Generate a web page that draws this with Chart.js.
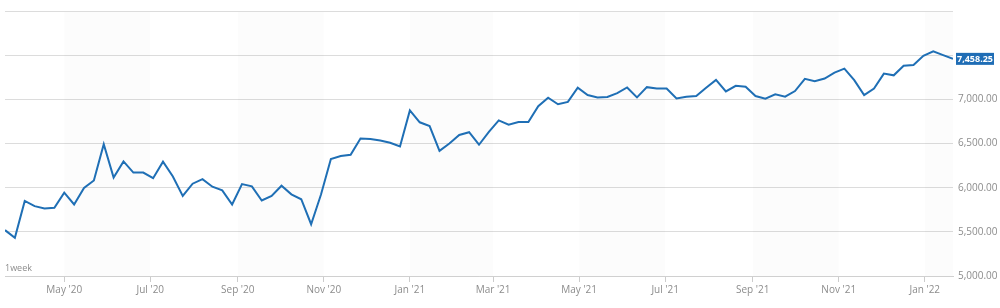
<!DOCTYPE html>
<html>
<head>
<meta charset="utf-8">
<script src="https://cdn.jsdelivr.net/npm/chart.js@4/dist/chart.umd.min.js"></script>
<style>
  html, body { margin: 0; padding: 0; background: #ffffff; }
  #wrap { width: 1000px; height: 308px; position: relative; }
</style>
</head>
<body>
<div id="wrap"><canvas id="c"></canvas></div>
<script>
// ---- Data ----
const startDate = '2020-03-20';          // first weekly close (Friday)
const intervalLabel = '1week';
const values = [
  5519, 5433, 5850, 5791, 5765, 5772, 5944, 5810, 5996, 6082,
  6493, 6115, 6297, 6171, 6171, 6107, 6294, 6126, 5906, 6045,
  6096, 6011, 5970, 5810, 6040, 6015, 5855, 5906, 6022, 5925,
  5869, 5586, 5922, 6324, 6358, 6372, 6556, 6552, 6534, 6508,
  6466, 6874, 6740, 6698, 6416, 6500, 6597, 6628, 6486, 6631,
  6762, 6714, 6743, 6743, 6922, 7019, 6944, 6971, 7131, 7049,
  7022, 7027, 7071, 7134, 7022, 7138, 7123, 7123, 7011, 7030,
  7038, 7131, 7220, 7089, 7153, 7142, 7038, 7008, 7056, 7030,
  7094, 7232, 7205, 7235, 7302, 7347, 7217, 7049, 7123, 7291,
  7272, 7380, 7389, 7492, 7544, 7500, 7458.25
];
const tickDates  = ['2020-05-01','2020-07-01','2020-09-01','2020-11-01','2021-01-01','2021-03-01',
                    '2021-05-01','2021-07-01','2021-09-01','2021-11-01','2022-01-01'];
const tickLabels = ["May '20","Jul '20","Sep '20","Nov '20","Jan '21","Mar '21",
                    "May '21","Jul '21","Sep '21","Nov '21","Jan '22"];
const yTicks = [5000, 5500, 6000, 6500, 7000, 7500, 8000];
const yHiddenLabels = [7500, 8000];

// ---- Helpers ----
const DAY = 86400000;
const t0 = Date.parse(startDate + 'T00:00:00Z');
const dayOf = s => Math.round((Date.parse(s + 'T00:00:00Z') - t0) / DAY);
const tickDays = tickDates.map(dayOf);
const points = values.map((v, i) => ({ x: i * 7, y: v }));
const lastVal = values[values.length - 1];
const fmt = v => v.toLocaleString('en-US', { minimumFractionDigits: 2, maximumFractionDigits: 2 });

const FONT = "'Open Sans', 'Noto Sans', sans-serif";

const bandsPlugin = {
  id: 'bands',
  beforeDatasetsDraw(chart) {
    const { ctx, chartArea: a, scales: { x } } = chart;
    const edges = [x.min, ...tickDays, x.max];
    ctx.save();
    ctx.fillStyle = 'rgba(0,0,0,0.012)';
    for (let i = 1; i < edges.length - 1; i += 2) {
      const x1 = x.getPixelForValue(edges[i]);
      const x2 = x.getPixelForValue(edges[i + 1]);
      ctx.fillRect(x1, a.top + 1, x2 - x1, a.bottom - a.top - 1);
    }
    ctx.restore();
  }
};

const extrasPlugin = {
  id: 'extras',
  afterDraw(chart) {
    const { ctx, chartArea: a, scales: { y } } = chart;
    ctx.save();
    // interval label
    ctx.font = '9px ' + FONT;
    ctx.fillStyle = '#8c8c8c';
    ctx.textAlign = 'left';
    ctx.textBaseline = 'middle';
    ctx.fillText(intervalLabel, a.left, a.bottom - 8);
    // last price tag
    const py = y.getPixelForValue(lastVal);
    ctx.fillStyle = '#1f6db5';
    ctx.fillRect(a.right + 3, py - 6, 38, 12);
    ctx.fillStyle = '#ffffff';
    ctx.font = 'bold 9px ' + FONT;
    ctx.textAlign = 'center';
    ctx.fillText(fmt(lastVal), a.right + 22, py + 0.5);
    ctx.restore();
  }
};

new Chart(document.getElementById('c'), {
  type: 'line',
  data: {
    datasets: [{
      data: points,
      borderColor: '#1f6fb5',
      borderWidth: 2,
      pointRadius: 0,
      tension: 0,
      fill: false
    }]
  },
  options: {
    responsive: true,
    maintainAspectRatio: false,
    animation: false,
    layout: { padding: { top: 7, left: 5, right: 0, bottom: 0 } },
    plugins: { legend: { display: false }, tooltip: { enabled: false } },
    scales: {
      x: {
        type: 'linear',
        min: 0,
        max: (values.length - 1) * 7,
        afterBuildTicks(scale) { scale.ticks = tickDays.map(v => ({ value: v })); },
        afterFit(scale) { scale.height = 32; },
        ticks: {
          autoSkip: false,
          maxRotation: 0,
          padding: 2,
          color: '#8c8c8c',
          font: { family: FONT, size: 10 },
          callback: v => { const i = tickDays.indexOf(v); return i >= 0 ? tickLabels[i] : ''; }
        },
        grid: { drawOnChartArea: false, drawTicks: true, tickLength: 6, color: '#cccccc' },
        border: { display: true, color: '#d0d0d0' }
      },
      y: {
        position: 'right',
        min: 5000,
        max: 8000,
        afterBuildTicks(scale) { scale.ticks = yTicks.map(v => ({ value: v })); },
        afterFit(scale) { scale.width = 47; },
        ticks: {
          padding: 5,
          color: '#8c8c8c',
          font: { family: FONT, size: 10 },
          callback: v => yHiddenLabels.includes(v) ? '' : fmt(v)
        },
        grid: { drawTicks: false, color: '#dcdcdc' },
        border: { display: false }
      }
    }
  },
  plugins: [bandsPlugin, extrasPlugin]
});
</script>
</body>
</html>
